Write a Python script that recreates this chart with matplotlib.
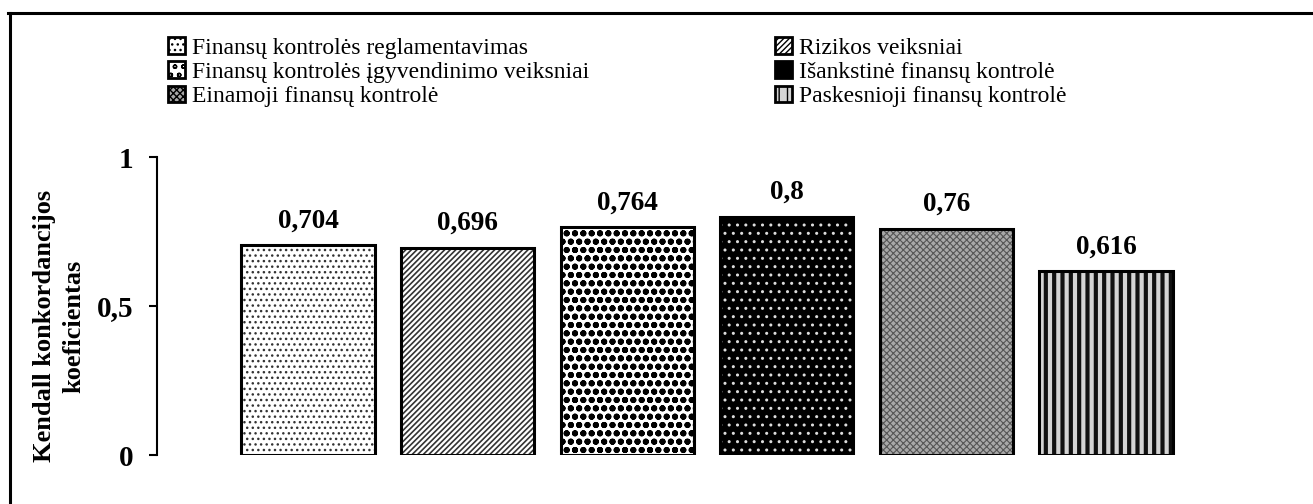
import matplotlib
matplotlib.use("Agg")
import matplotlib.pyplot as plt
from matplotlib.patches import Patch
from matplotlib.lines import Line2D

categories = ["Finansų kontrolės reglamentavimas", "Rizikos veiksniai",
              "Finansų kontrolės įgyvendinimo veiksniai", "Išankstinė finansų kontrolė",
              "Einamoji finansų kontrolė", "Paskesnioji finansų kontrolė"]
values = [0.704, 0.696, 0.764, 0.8, 0.76, 0.616]
value_labels = ["0,704", "0,696", "0,764", "0,8", "0,76", "0,616"]
yticks = [0, 0.5, 1]
ytick_labels = ["0", "0,5", "1"]
ylabel = "Kendall konkordancijos\nkoeficientas"

# style per bar: facecolor, hatch, hatch color, hatch linewidth
styles = [
    ("white", "...", "#333333", 1.0),
    ("white", "//////", "#333333", 1.2),
    ("white", "oo", "black", 2.0),
    ("black", "..", "#dddddd", 1.0),
    ("#a8a8a8", "xxxxx", "#555555", 0.8),
    ("#d4d4d4", "||", "#111111", 3.0),
]

plt.rcParams['font.family'] = ['Liberation Serif', 'DejaVu Serif']
W, H = 1313, 504
fig = plt.figure(figsize=(W / 100, H / 100), dpi=100)

left_px, bottom_px, top_px = 157, 455, 157
spacing = 159.6
first_c = 308
xl = -(first_c - left_px) / spacing
xr = 5 - xl
ax_w = (xr - xl) * spacing
ax = fig.add_axes([left_px / W, (H - bottom_px) / H, ax_w / W, (bottom_px - top_px) / H])
ax.set_xlim(xl, xr)
ax.set_ylim(0, 1)

xs = list(range(len(values)))
handles = []
for i, (x, v) in enumerate(zip(xs, values)):
    fc, hatch, hc, hlw = styles[i]
    with plt.rc_context({'hatch.linewidth': hlw, 'hatch.color': hc}):
        ax.bar(x, v, width=0.835, color=fc, hatch=hatch, edgecolor=hc, linewidth=0, zorder=2)
        h = Patch(facecolor=fc, hatch=hatch, edgecolor=hc, linewidth=0)
    ax.bar(x, v, width=0.835, fill=False, edgecolor="black", linewidth=2.2, zorder=3)
    handles.append(h)
    ax.text(x, v + 0.04, value_labels[i], ha="center", va="bottom",
            fontsize=19.5, fontweight="bold", clip_on=False)

for s in ["top", "right", "bottom"]:
    ax.spines[s].set_visible(False)
ax.spines["left"].set_linewidth(1.5)
ax.set_xticks([])
ax.set_yticks(yticks)
ax.set_yticklabels(ytick_labels, fontsize=21, fontweight="bold")
ax.tick_params(axis="y", direction="out", length=6, width=1.5, pad=11)

fig.text(59 / W, 1 - 326 / H, ylabel, rotation=90, ha="center", va="center",
         fontsize=19, fontweight="bold", linespacing=1.35)

# legend: row-major ordering -> column-major for matplotlib
order = [0, 2, 4, 1, 3, 5]
leg_handles = [handles[k] for k in order]
leg = fig.legend(leg_handles, [categories[k] for k in order], ncol=2, frameon=False,
                 loc="upper left", bbox_to_anchor=(168 / W, 1 - 37 / H),
                 fontsize=17, handlelength=0.7, handleheight=0.7, handletextpad=0.3,
                 columnspacing=7.9, labelspacing=0.12, borderpad=0, borderaxespad=0)
for p in leg.get_patches():
    p.set_linewidth(2)
    p.set_edgecolor("black")

# outer frame (left and top)
fig.add_artist(Line2D([9.5 / W, 9.5 / W], [0, 1 - 13 / H], transform=fig.transFigure,
                      color="black", linewidth=2.2))
fig.add_artist(Line2D([8.4 / W, 1], [1 - 13 / H, 1 - 13 / H], transform=fig.transFigure,
                      color="black", linewidth=2.2))

fig.savefig("out.png", dpi=100)
